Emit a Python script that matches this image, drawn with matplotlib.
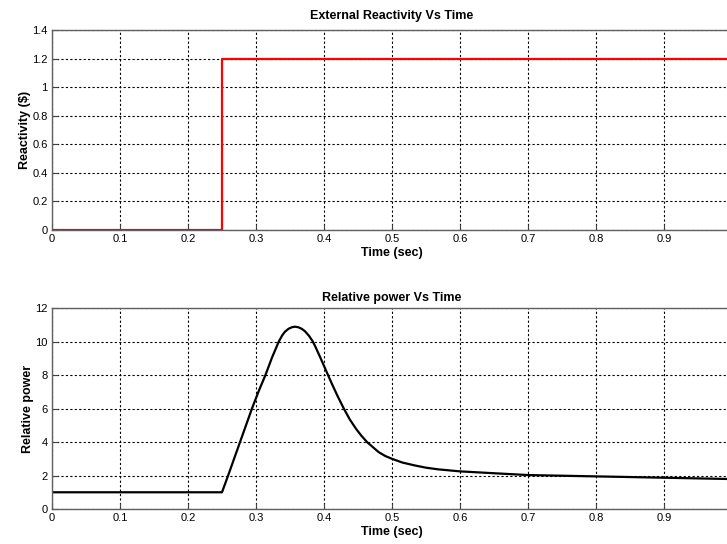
import matplotlib
matplotlib.use("Agg")
import matplotlib.pyplot as plt
from matplotlib.ticker import FuncFormatter

plt.rcParams['font.family'] = ['Liberation Sans', 'DejaVu Sans']

# External reactivity step
react_t = [0.0, 0.25, 0.25, 1.0]
react_v = [0.0, 0.0, 1.2, 1.2]

# Relative power
power_t = [0.0, 0.25, 0.259, 0.2765, 0.294, 0.304, 0.3138, 0.3235, 0.3334,
           0.3385, 0.3426, 0.348, 0.353, 0.3574, 0.362, 0.367, 0.372, 0.378, 0.383,
           0.3868, 0.393, 0.399, 0.4049, 0.412, 0.420, 0.4292, 0.438, 0.447, 0.455,
           0.4633, 0.4804, 0.490, 0.500, 0.515, 0.534, 0.550, 0.568, 0.600,
           0.6537, 0.70, 0.75, 0.80, 0.85, 0.90, 0.95, 1.0]
power_v = [1.0, 1.0, 2.0, 4.0, 6.0, 7.05, 8.0, 9.05, 10.0,
           10.38, 10.6, 10.78, 10.87, 10.9, 10.87, 10.78, 10.63, 10.35, 10.05,
           9.75, 9.2, 8.65, 8.1, 7.45, 6.75, 6.0, 5.35, 4.8, 4.38,
           4.0, 3.4, 3.17, 3.0, 2.78, 2.6, 2.47, 2.37, 2.25,
           2.13, 2.03, 1.99, 1.95, 1.91, 1.87, 1.83, 1.79]

x_ticks = [0, 0.1, 0.2, 0.3, 0.4, 0.5, 0.6, 0.7, 0.8, 0.9]
react_ticks = [0, 0.2, 0.4, 0.6, 0.8, 1.0, 1.2, 1.4]
power_ticks = [0, 2, 4, 6, 8, 10, 12]

W, H = 727, 544
fig = plt.figure(figsize=(W / 100, H / 100), dpi=100)

def fmt(v, pos):
    return ('%g' % v)

def style(ax):
    ax.grid(True, color='black', linestyle=(0, (2, 2)), linewidth=0.8)
    ax.tick_params(direction='in', labelsize=8, length=4, color='#404040', pad=3)
    for s in ax.spines.values():
        s.set_color('#606060')
        s.set_linewidth(1.0)
    ax.xaxis.set_major_formatter(FuncFormatter(fmt))
    ax.yaxis.set_major_formatter(FuncFormatter(fmt))
    ax.set_axisbelow(True)

left = 52 / W
width = 680 * 1.0 / W  # x = 1.0 maps just beyond the figure edge

ax1 = fig.add_axes([left, (H - 229.7) / H, width, (229.7 - 30.3) / H])
ax1.plot(react_t, react_v, color='#ff0000', linewidth=1.6)
ax1.set_xlim(0, 1.0)
ax1.set_ylim(0, 1.4)
ax1.set_xticks(x_ticks)
ax1.set_yticks(react_ticks)
style(ax1)
ax1.set_title('External Reactivity Vs Time', fontsize=9, fontweight='bold', pad=8)
ax1.set_xlabel('Time (sec)', fontsize=9, fontweight='bold', labelpad=2)
ax1.set_ylabel('Reactivity ($)', fontsize=9, fontweight='bold', labelpad=1)

ax2 = fig.add_axes([left, (H - 509) / H, width, (509 - 308.3) / H])
ax2.plot(power_t, power_v, color='black', linewidth=1.6)
ax2.set_xlim(0, 1.0)
ax2.set_ylim(0, 12)
ax2.set_xticks(x_ticks)
ax2.set_yticks(power_ticks)
style(ax2)
ax2.set_title('Relative power Vs Time', fontsize=9, fontweight='bold', pad=5)
ax2.set_xlabel('Time (sec)', fontsize=9, fontweight='bold', labelpad=2)
ax2.set_ylabel('Relative power', fontsize=9, fontweight='bold', labelpad=1)

fig.savefig('out.png', dpi=100, facecolor='white')
